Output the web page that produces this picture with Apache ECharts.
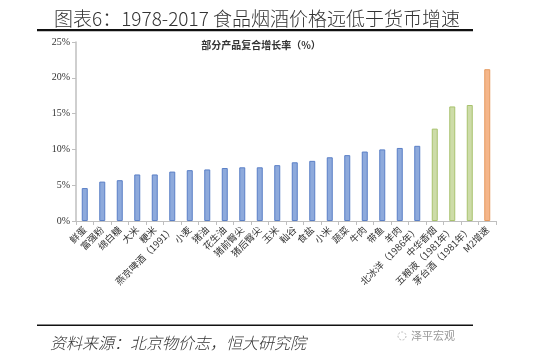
<!DOCTYPE html>
<html>
<head>
<meta charset="utf-8">
<script src="https://cdn.jsdelivr.net/npm/echarts@6/dist/echarts.min.js"></script>
<style>html,body{margin:0;padding:0;background:#fff;}#c{width:550px;height:358px;}</style>
</head>
<body>
<div id="c"></div>
<script>
var categories = ['鲜蛋','富强粉','绵白糖','大米','粳米','燕京啤酒（1991）','小麦','猪油','花生油','猪前臀尖','猪后臀尖','玉米','籼谷','食盐','小米','蔬菜','牛肉','带鱼','羊肉','北冰洋（1986年）','中华香烟','五粮液（1981年）','茅台酒（1981年）','M2增速'];
var values = [4.6,5.5,5.7,6.5,6.5,6.9,7.1,7.2,7.4,7.5,7.5,7.8,8.2,8.4,8.9,9.2,9.7,10.0,10.2,10.5,12.9,16.0,16.2,21.2];
var groups = ['blue','blue','blue','blue','blue','blue','blue','blue','blue','blue','blue','blue','blue','blue','blue','blue','blue','blue','blue','blue','green','green','green','orange'];
var yTicks = [0,5,10,15,20,25];

var palette = {
  blue: {fill:'#8eaadc', edge:'#5a7fc6'},
  green: {fill:'#cddca8', edge:'#a8c26e'},
  orange: {fill:'#f5b68a', edge:'#e59a60'}
};

var data = values.map(function(v,i){
  var p = palette[groups[i]];
  return {value:v, itemStyle:{color:p.fill, borderColor:p.edge, borderWidth:1}};
});

var chart = echarts.init(document.getElementById('c'), null, {renderer:'canvas'});
chart.setOption({
  animation:false,
  backgroundColor:'#fff',
  grid:{left:76, right:54, top:42, bottom:137, containLabel:false},
  xAxis:{
    type:'category', data:categories,
    axisLine:{lineStyle:{color:'#bfbfbf', width:1}},
    axisTick:{show:true, alignWithLabel:false, length:4, lineStyle:{color:'#bfbfbf'}},
    axisLabel:{rotate:45, interval:0, fontSize:9.5, color:'#333', fontFamily:'Noto Sans CJK SC', margin:7}
  },
  yAxis:{
    type:'value', min:yTicks[0], max:yTicks[yTicks.length-1], interval:5,
    axisLine:{show:true, lineStyle:{color:'#bfbfbf', width:1.5}},
    axisTick:{show:true, length:4, lineStyle:{color:'#bfbfbf'}},
    splitLine:{show:false},
    axisLabel:{formatter:'{value}%', fontSize:10, color:'#333', fontFamily:'Liberation Serif', margin:6}
  },
  series:[{type:'bar', data:data, barWidth:6}],
  graphic:[
    {type:'text', x:257, y:19, style:{text:'图表6：1978-2017 食品烟酒价格远低于货币增速', fontSize:19, fill:'#333', fontFamily:'Noto Sans CJK SC', fontWeight:300, align:'center', verticalAlign:'middle'}},
    {type:'rect', shape:{x:37, y:29, width:436, height:2.2}, style:{fill:'#111'}},
    {type:'text', x:261, y:45, style:{text:'部分产品复合增长率（%）', fontSize:10, fontWeight:'bold', fill:'#333', fontFamily:'Noto Sans CJK SC', align:'center', verticalAlign:'middle'}},
    {type:'rect', shape:{x:37, y:324.5, width:436, height:1.6}, style:{fill:'#111'}},
    {type:'text', x:50, y:343, style:{text:'资料来源：北京物价志，恒大研究院', fontSize:16, fontStyle:'italic', fill:'#333', fontFamily:'Noto Sans CJK SC', fontWeight:300, verticalAlign:'middle'}},
    {type:'circle', shape:{cx:402, cy:336, r:4}, style:{fill:'none', stroke:'#bbb', lineWidth:1, lineDash:[2,1.5]}},
    {type:'text', x:411, y:336, style:{text:'泽平宏观', fontSize:11, fill:'#999', fontFamily:'Noto Sans CJK SC', verticalAlign:'middle'}}
  ]
});
</script>
</body>
</html>
